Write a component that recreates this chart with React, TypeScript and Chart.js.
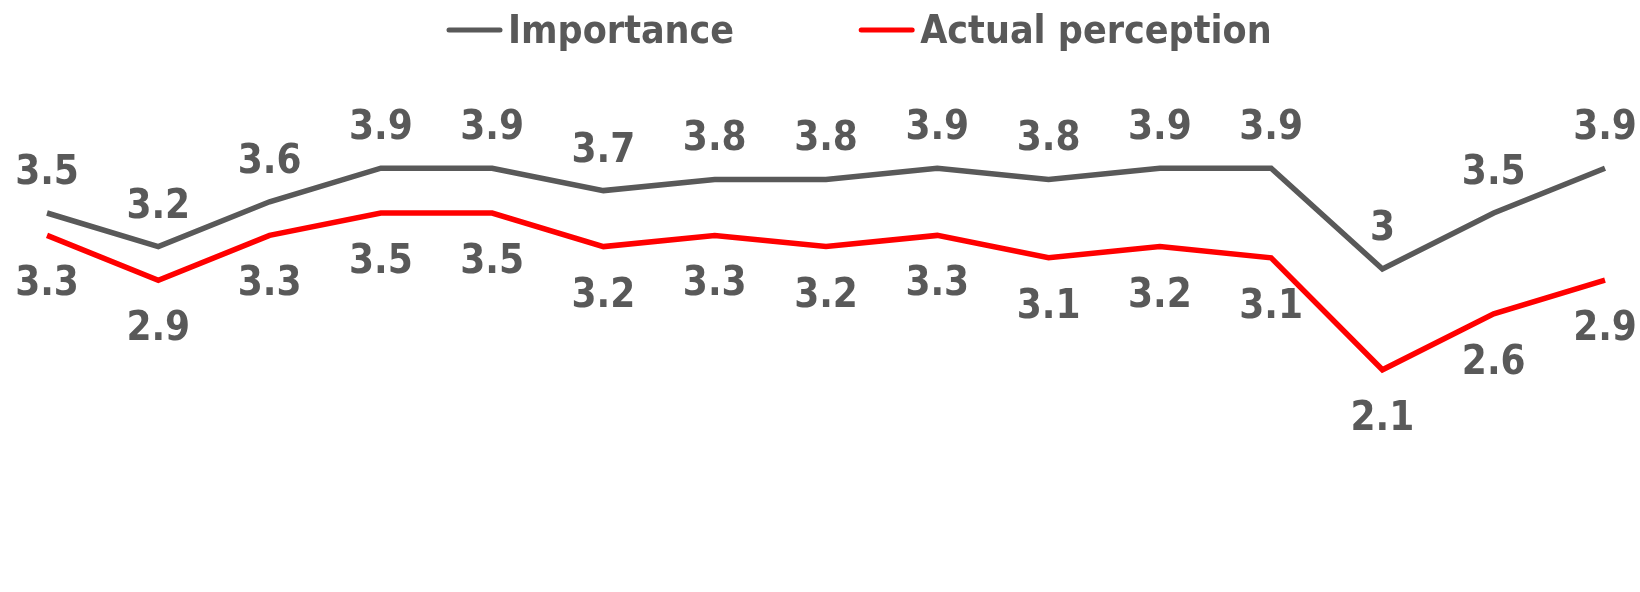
import React, { useEffect, useRef } from "react";
import { Chart, registerables } from "chart.js";

Chart.register(...registerables);

// Survey items (not shown on the chart) and the two rating series
const categories = [
  "Item 1", "Item 2", "Item 3", "Item 4", "Item 5",
  "Item 6", "Item 7", "Item 8", "Item 9", "Item 10",
  "Item 11", "Item 12", "Item 13", "Item 14", "Item 15",
];
const importance = [3.5, 3.2, 3.6, 3.9, 3.9, 3.7, 3.8, 3.8, 3.9, 3.8, 3.9, 3.9, 3.0, 3.5, 3.9];
const actualPerception = [3.3, 2.9, 3.3, 3.5, 3.5, 3.2, 3.3, 3.2, 3.3, 3.1, 3.2, 3.1, 2.1, 2.6, 2.9];

const seriesNames = ["Importance", "Actual perception"];
const GREY = "#595959";
const RED = "#FF0000";
const FAMILY = "'DejaVu Sans Condensed', 'DejaVu Sans', sans-serif";
const LABEL_FONT = `bold 40px ${FAMILY}`;
const LEGEND_FONT = `bold 39px ${FAMILY}`;

const fmt = (v: number) => String(Math.round(v * 10) / 10);

// Value labels: first series above its points, second series below
const valueLabels = {
  id: "valueLabels",
  afterDatasetsDraw(chart: any) {
    const ctx = chart.ctx;
    ctx.save();
    ctx.font = LABEL_FONT;
    ctx.fillStyle = GREY;
    ctx.textAlign = "center";
    ctx.textBaseline = "alphabetic";
    chart.data.datasets.forEach((ds: any, di: number) => {
      const meta = chart.getDatasetMeta(di);
      meta.data.forEach((pt: any, i: number) => {
        const v = ds.data[i] as number;
        const y = di === 0 ? pt.y - 29 : pt.y + 60;
        ctx.fillText(fmt(v), pt.x, y);
      });
    });
    ctx.restore();
  },
};

// Legend drawn across the top: short line sample followed by the series name
const topLegend = {
  id: "topLegend",
  afterDraw(chart: any) {
    const ctx = chart.ctx;
    ctx.save();
    ctx.font = LEGEND_FONT;
    ctx.textBaseline = "alphabetic";
    ctx.textAlign = "left";
    const lineY = 30;
    const baseY = 43;
    let x = 447;
    chart.data.datasets.forEach((ds: any, di: number) => {
      ctx.strokeStyle = ds.borderColor;
      ctx.lineWidth = 5;
      ctx.lineCap = "round";
      ctx.beginPath();
      ctx.moveTo(x + 2, lineY);
      ctx.lineTo(x + 53, lineY);
      ctx.stroke();
      x += 61;
      ctx.fillStyle = GREY;
      ctx.fillText(ds.label, x, baseY);
      x += ctx.measureText(ds.label).width;
      if (di === 0) x += 125;
    });
    ctx.restore();
  },
};

export default function App() {
  const canvasRef = useRef<HTMLCanvasElement | null>(null);

  useEffect(() => {
    const canvas = canvasRef.current;
    if (!canvas) return;
    const chart = new Chart(canvas, {
      type: "line",
      data: {
        labels: categories,
        datasets: [
          {
            label: seriesNames[0],
            data: importance,
            borderColor: GREY,
            backgroundColor: GREY,
            borderWidth: 5.5,
            pointRadius: 0,
            tension: 0,
            fill: false,
          },
          {
            label: seriesNames[1],
            data: actualPerception,
            borderColor: RED,
            backgroundColor: RED,
            borderWidth: 5.5,
            pointRadius: 0,
            tension: 0,
            fill: false,
          },
        ],
      },
      options: {
        responsive: false,
        animation: false,
        events: [],
        layout: { padding: { left: 47, right: 35, top: 101, bottom: 43 } },
        plugins: {
          legend: { display: false },
          tooltip: { enabled: false },
          title: { display: false },
        },
        scales: {
          x: { display: false, offset: false, grid: { display: false } },
          y: { display: false, min: 0.5, max: 4.5, grid: { display: false } },
        },
      },
      plugins: [valueLabels, topLegend],
    });
    return () => chart.destroy();
  }, []);

  return (
    <div style={{ position: "fixed", left: 0, top: 0, width: 1640, height: 592, background: "#fff" }}>
      <canvas ref={canvasRef} width={1640} height={592} style={{ display: "block" }} />
    </div>
  );
}
